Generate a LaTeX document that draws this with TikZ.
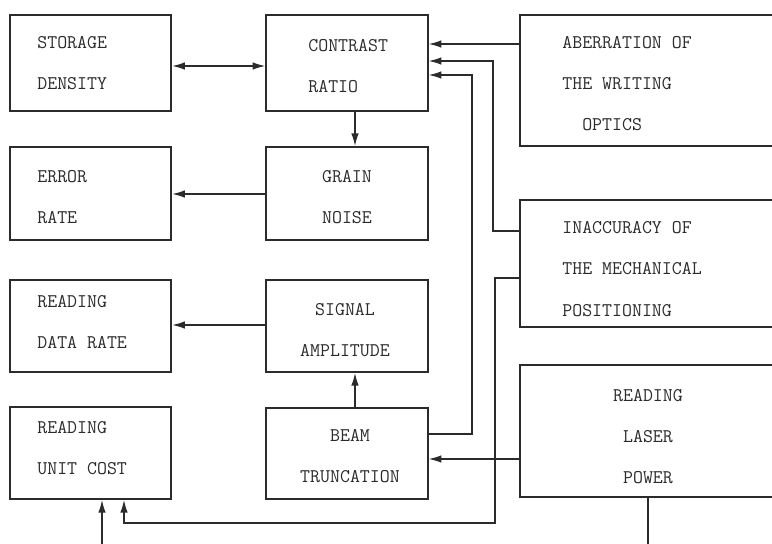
\documentclass[tikz,border=0pt]{standalone}
\usepackage{fontspec}
\usepackage{xcolor}
\definecolor{cInk}{HTML}{2B2B2B}
\usetikzlibrary{positioning,arrows.meta,calc}
\tikzset{
  node-box/.style={draw=cInk,line width=1.2pt,inner sep=0pt},
  node-small/.style={node-box,minimum width=32.3mm},
  node-wide/.style={node-box,minimum width=51.2mm},
  node-text/.style={inner sep=0pt,align=left,anchor=west,
    font=\ttfamily\fontsize{11}{23.4}\selectfont,text=cInk},
  node-text-mid/.style={node-text,align=center,anchor=center},
  arrow/.style={-{Latex[length=2.5mm,width=1.5mm]},line width=0.7pt,draw=cInk},
  arrow-both/.style={{Latex[length=2.5mm,width=1.5mm]}-{Latex[length=2.5mm,width=1.5mm]},
    line width=0.7pt,draw=cInk},
}
\begin{document}
\begin{tikzpicture}[x=0.2mm,y=-0.2mm]
  \useasboundingbox (0,0) rectangle (772,543);
  \clip (0,0) rectangle (772,543);
  % left column
  \node[node-small,minimum height=19.2mm] (storage)  at (90.5,63)  {};
  \node[node-small,minimum height=18.6mm] (error)    at (90.5,193.5) {};
  \node[node-small,minimum height=18.4mm] (datarate) at (90.5,326) {};
  \node[node-small,minimum height=18.4mm] (unitcost) at (90.5,453) {};
  \node[node-text] (storage-txt)  at (37,63)    {STORAGE\\DENSITY};
  \node[node-text] (error-txt)    at (37,197.5) {ERROR\\RATE};
  \node[node-text] (datarate-txt) at (37,322)   {READING\\DATA RATE};
  \node[node-text] (unitcost-txt) at (37,448)   {READING\\UNIT COST};
  % middle column
  \node[node-small,minimum height=19.2mm] (contrast) at (347,63)    {};
  \node[node-small,minimum height=18.6mm] (grain)    at (347,193.5) {};
  \node[node-small,minimum height=18.4mm] (signal)   at (347,326)   {};
  \node[node-small,minimum height=18.2mm] (beam)     at (347,453.5) {};
  \node[node-text] (contrast-txt) at (308,66) {CONTRAST\\RATIO};
  \node[node-text-mid] (grain-txt)  at (347,197.5) {GRAIN\\NOISE};
  \node[node-text-mid] (signal-txt) at (345,330.5) {SIGNAL\\AMPLITUDE};
  \node[node-text-mid] (beam-txt)   at (350,456)   {BEAM\\TRUNCATION};
  % right column (cut by the page edge)
  \node[node-wide,minimum height=26.2mm] (aberration) at (648,80.5)  {};
  \node[node-wide,minimum height=25.4mm] (inaccuracy) at (648,263.5) {};
  \node[node-wide,minimum height=26.4mm] (laser)      at (648,431)   {};
  \node[node-text] (aberration-txt) at (562,83.5) {ABERRATION OF\\THE WRITING\\\phantom{AB}OPTICS};
  \node[node-text] (inaccuracy-txt) at (562,269)  {INACCURACY OF\\THE MECHANICAL\\POSITIONING};
  \node[node-text-mid] (laser-txt)  at (648,436.5) {READING\\LASER\\POWER};
  % connectors
  \draw[arrow-both] (storage.east |- 0,66) -- (contrast.west |- 0,66);
  \draw[arrow] (contrast.south -| 355,0) -- (grain.north -| 355,0);
  \draw[arrow] (grain.west |- 0,194) -- (error.east |- 0,194);
  \draw[arrow] (signal.west |- 0,325) -- (datarate.east |- 0,325);
  \draw[arrow] (beam.north -| 355,0) -- (signal.south -| 355,0);
  \draw[arrow] (aberration.west |- 0,44) -- (contrast.east |- 0,44);
  \draw[arrow] (inaccuracy.west |- 0,231) -- (493,231) -- (493,61) -- (contrast.east |- 0,61);
  \draw[arrow] (beam.east |- 0,434) -- (472,434) -- (472,75) -- (contrast.east |- 0,75);
  \draw[arrow] (inaccuracy.west |- 0,278) -- (495,278) -- (495,523) -- (124,523)
    -- (unitcost.south -| 124,0);
  \draw[arrow] (laser.west |- 0,459) -- (beam.east |- 0,459);
  \draw[arrow] (laser.south) -- (648,560) -- (102,560) -- (unitcost.south -| 102,0);
\end{tikzpicture}
\end{document}
